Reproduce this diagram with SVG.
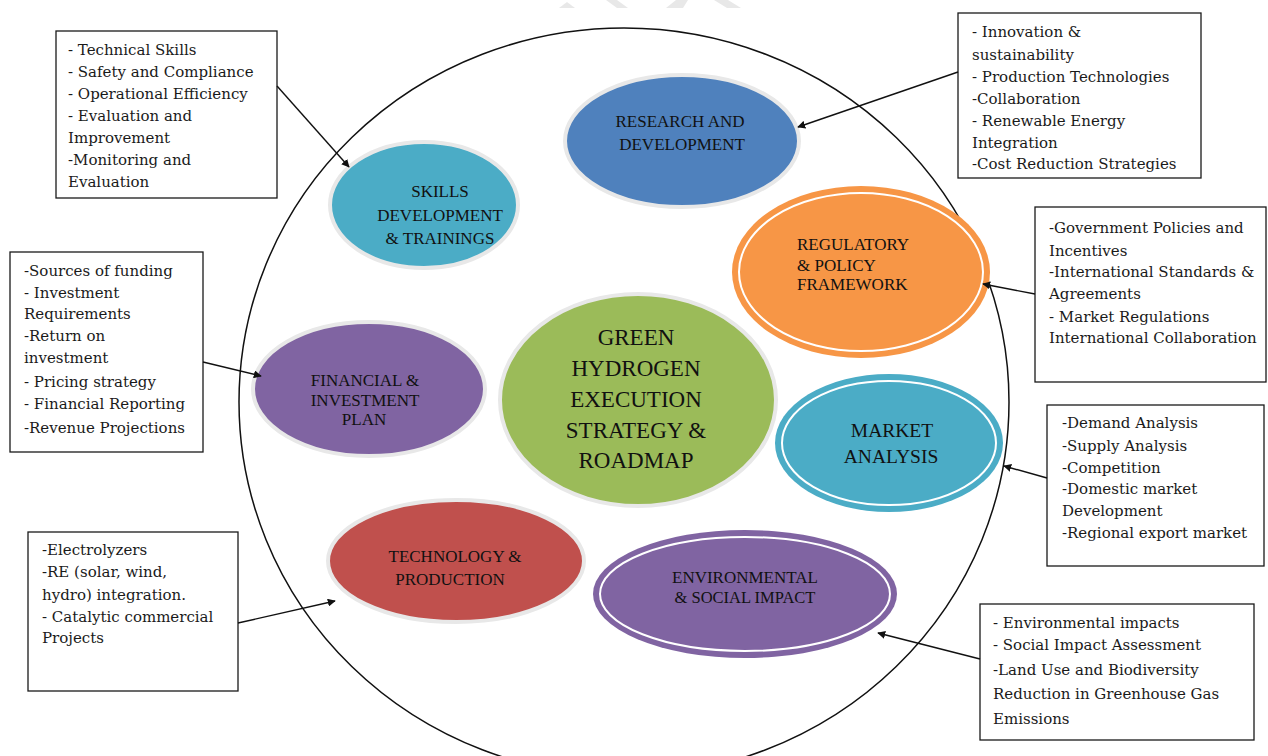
<svg xmlns="http://www.w3.org/2000/svg" width="1268" height="756" viewBox="0 0 1268 756">
<defs>
<style>
.box{fill:#fff;stroke:#1a1a1a;stroke-width:1.3}
.bt{font-family:"DejaVu Serif","Liberation Serif",serif;font-size:15px;fill:#1a1a1a}
.lbl{font-family:"Liberation Serif","Times New Roman",serif;font-size:17px;fill:#111;text-anchor:middle}
.plain{stroke:#e8e8e8;stroke-width:4}
.inner{fill:none;stroke:#fff;stroke-width:2}
.con{stroke:#111;stroke-width:1.4;fill:none;marker-end:url(#ah)}
</style>
<marker id="ah" viewBox="0 0 10 10" refX="9" refY="5" markerWidth="8" markerHeight="8" markerUnits="userSpaceOnUse" orient="auto">
<path d="M0,0 L10,5 L0,10 z" fill="#111"/>
</marker>
</defs>
<rect width="1268" height="756" fill="#fff"/>
<g id="watermark" fill="#e8e8e8">
<polygon points="559,8 567,2 575,8"/>
<polygon points="606,0 617,0 628,8 617,8"/>
<polygon points="666,8 676,0 688,0 683,8"/>
<polygon points="714,0 728,0 741,8 727,8"/>
</g>
<ellipse id="outer-circle" cx="624" cy="402" rx="385" ry="374" fill="none" stroke="#111" stroke-width="1.5"/>
<g id="research">
<ellipse cx="682" cy="141" rx="117" ry="66" fill="#4F81BD" class="plain"/>
<text class="lbl" x="680" y="127">RESEARCH AND</text>
<text class="lbl" x="682" y="150">DEVELOPMENT</text>
</g>
<g id="skills">
<ellipse cx="424" cy="205" rx="94" ry="63" fill="#4BACC6" class="plain"/>
<text class="lbl" x="440" y="197">SKILLS</text>
<text class="lbl" x="440" y="221">DEVELOPMENT</text>
<text class="lbl" x="440" y="244">&amp; TRAININGS</text>
</g>
<g id="regulatory">
<ellipse cx="861" cy="272" rx="129" ry="86" fill="#F79646"/>
<ellipse cx="861" cy="272" rx="122" ry="79" class="inner"/>
<text class="lbl" x="797" y="250" style="text-anchor:start">REGULATORY</text>
<text class="lbl" x="797" y="271" style="text-anchor:start">&amp; POLICY</text>
<text class="lbl" x="797" y="290" style="text-anchor:start">FRAMEWORK</text>
</g>
<g id="financial">
<ellipse cx="369" cy="389" rx="116" ry="67" fill="#8064A2" class="plain"/>
<text class="lbl" x="365" y="386">FINANCIAL &amp;</text>
<text class="lbl" x="365" y="406">INVESTMENT</text>
<text class="lbl" x="364" y="425">PLAN</text>
</g>
<g id="center">
<ellipse cx="638" cy="400" rx="138" ry="106" fill="#9BBB59" class="plain"/>
<g class="lbl" style="font-size:23px">
<text x="636" y="345">GREEN</text>
<text x="636" y="376">HYDROGEN</text>
<text x="636" y="407">EXECUTION</text>
<text x="636" y="438">STRATEGY &amp;</text>
<text x="636" y="468">ROADMAP</text>
</g>
</g>
<g id="market">
<ellipse cx="889" cy="443" rx="114" ry="69" fill="#4BACC6"/>
<ellipse cx="889" cy="443" rx="107" ry="62" class="inner"/>
<text class="lbl" x="892" y="437" style="font-size:19.5px">MARKET</text>
<text class="lbl" x="891" y="463" style="font-size:19.5px">ANALYSIS</text>
</g>
<g id="technology">
<ellipse cx="456" cy="561" rx="128" ry="61" fill="#C0504D" class="plain"/>
<text class="lbl" x="455" y="562">TECHNOLOGY &amp;</text>
<text class="lbl" x="450" y="585">PRODUCTION</text>
</g>
<g id="environmental">
<ellipse cx="745" cy="594" rx="152" ry="64" fill="#8064A2"/>
<ellipse cx="745" cy="594" rx="145" ry="57" class="inner"/>
<text class="lbl" x="745" y="583">ENVIRONMENTAL</text>
<text class="lbl" x="745" y="603" style="font-size:16.5px">&amp; SOCIAL IMPACT</text>
</g>
<g id="box-skills">
<rect class="box" x="56" y="31" width="221" height="167"/>
<text class="bt" x="68" y="55">- Technical Skills</text>
<text class="bt" x="68" y="77">- Safety and Compliance</text>
<text class="bt" x="68" y="99">- Operational Efficiency</text>
<text class="bt" x="68" y="121">- Evaluation and</text>
<text class="bt" x="68" y="143">Improvement</text>
<text class="bt" x="68" y="165">-Monitoring and</text>
<text class="bt" x="68" y="187">Evaluation</text>
</g>
<g id="box-research">
<rect class="box" x="958" y="13" width="243" height="165"/>
<text class="bt" x="972" y="37">- Innovation &amp;</text>
<text class="bt" x="972" y="60">sustainability</text>
<text class="bt" x="972" y="82">- Production Technologies</text>
<text class="bt" x="972" y="104">-Collaboration</text>
<text class="bt" x="972" y="126">- Renewable Energy</text>
<text class="bt" x="972" y="148">Integration</text>
<text class="bt" x="972" y="169">-Cost Reduction Strategies</text>
</g>
<g id="box-regulatory">
<rect class="box" x="1035" y="207" width="231" height="175"/>
<text class="bt" x="1049" y="233">-Government Policies and</text>
<text class="bt" x="1049" y="256">Incentives</text>
<text class="bt" x="1049" y="277">-International Standards &amp;</text>
<text class="bt" x="1049" y="299">Agreements</text>
<text class="bt" x="1049" y="322">- Market Regulations</text>
<text class="bt" x="1049" y="343">International Collaboration</text>
</g>
<g id="box-market">
<rect class="box" x="1047" y="405" width="217" height="161"/>
<text class="bt" x="1062" y="428">-Demand Analysis</text>
<text class="bt" x="1062" y="451">-Supply Analysis</text>
<text class="bt" x="1062" y="473">-Competition</text>
<text class="bt" x="1062" y="494">-Domestic market</text>
<text class="bt" x="1062" y="516">Development</text>
<text class="bt" x="1062" y="538">-Regional export market</text>
</g>
<g id="box-environmental">
<rect class="box" x="980" y="604" width="274" height="136"/>
<text class="bt" x="993" y="628">- Environmental impacts</text>
<text class="bt" x="993" y="650">- Social Impact Assessment</text>
<text class="bt" x="993" y="675">-Land Use and Biodiversity</text>
<text class="bt" x="993" y="699">Reduction in Greenhouse Gas</text>
<text class="bt" x="993" y="724">Emissions</text>
</g>
<g id="box-technology">
<rect class="box" x="28" y="532" width="210" height="159"/>
<text class="bt" x="42" y="555">-Electrolyzers</text>
<text class="bt" x="42" y="577">-RE (solar, wind,</text>
<text class="bt" x="42" y="600">hydro) integration.</text>
<text class="bt" x="42" y="622">- Catalytic commercial</text>
<text class="bt" x="42" y="643">Projects</text>
</g>
<g id="box-financial">
<rect class="box" x="10" y="252" width="193" height="200"/>
<text class="bt" x="24" y="276">-Sources of funding</text>
<text class="bt" x="24" y="298">- Investment</text>
<text class="bt" x="24" y="319">Requirements</text>
<text class="bt" x="24" y="341">-Return on</text>
<text class="bt" x="24" y="363">investment</text>
<text class="bt" x="24" y="387">- Pricing strategy</text>
<text class="bt" x="24" y="409">- Financial Reporting</text>
<text class="bt" x="24" y="433">-Revenue Projections</text>
</g>
<g id="connectors">
<line class="con" x1="277" y1="86" x2="349" y2="167"/>
<line class="con" x1="958" y1="72" x2="798" y2="127"/>
<line class="con" x1="1035" y1="294" x2="983" y2="284"/>
<line class="con" x1="1047" y1="478" x2="1004" y2="466"/>
<line class="con" x1="980" y1="659" x2="878" y2="633"/>
<line class="con" x1="238" y1="623" x2="335" y2="601"/>
<line class="con" x1="203" y1="362" x2="261" y2="376"/>
</g>
</svg>
